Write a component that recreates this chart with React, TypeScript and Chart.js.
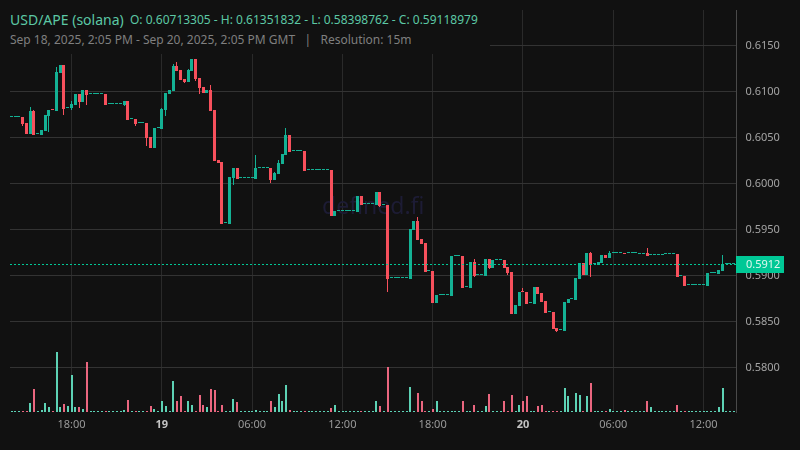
import React, { useEffect, useRef } from "react";
import { Chart, registerables } from "chart.js";

Chart.register(...registerables);

const opens = [
  0.60713, 0.60713, 0.60713, 0.60713, 0.60648, 0.60532, 0.60782, 0.60529, 0.60521, 0.60565,
  0.60728, 0.60791, 0.60782, 0.61195, 0.61282, 0.60815, 0.60815, 0.60848, 0.60967, 0.6088,
  0.61011, 0.60963, 0.60963, 0.60963, 0.60963, 0.60967, 0.60855, 0.60855, 0.60855, 0.60855,
  0.60848, 0.60891, 0.60692, 0.60695, 0.60648, 0.60648, 0.60648, 0.605, 0.6038, 0.60594,
  0.60587, 0.60793, 0.60967, 0.61, 0.61271, 0.61228, 0.6113, 0.61098, 0.61217, 0.61352,
  0.61141, 0.61043, 0.60978, 0.61011, 0.60793, 0.6025, 0.60228, 0.59561, 0.59554, 0.60054,
  0.60163, 0.6005, 0.6005, 0.6005, 0.6005, 0.60043, 0.60159, 0.60159, 0.60159, 0.60163,
  0.60032, 0.60097, 0.60206, 0.60304, 0.60521, 0.60344, 0.60344, 0.60344, 0.60347, 0.60137,
  0.60137, 0.60137, 0.60137, 0.60137, 0.60137, 0.60141, 0.59641, 0.59692, 0.59692, 0.59692,
  0.59692, 0.59692, 0.59684, 0.59858, 0.59768, 0.59768, 0.59768, 0.5976, 0.59902, 0.59757,
  0.5976, 0.58963, 0.58963, 0.58963, 0.58963, 0.58963, 0.58957, 0.5949, 0.59587, 0.59392,
  0.59348, 0.5904, 0.59044, 0.58696, 0.58779, 0.58779, 0.58779, 0.58772, 0.59203, 0.59203,
  0.59207, 0.58866, 0.58859, 0.59142, 0.58997, 0.58997, 0.5899, 0.59174, 0.59077, 0.5916,
  0.5916, 0.59163, 0.59087, 0.59033, 0.58577, 0.58663, 0.58812, 0.58816, 0.58692, 0.58685,
  0.5887, 0.58805, 0.58718, 0.58595, 0.58598, 0.58424, 0.58399, 0.58392, 0.58696, 0.58736,
  0.58729, 0.58957, 0.5913, 0.59, 0.59239, 0.59116, 0.59109, 0.5913, 0.59217, 0.59185,
  0.59235, 0.59235, 0.59235, 0.59235, 0.59235, 0.59235, 0.59235, 0.59232, 0.59232, 0.59239,
  0.59221, 0.59221, 0.59221, 0.59221, 0.59225, 0.59225, 0.59225, 0.59228, 0.58985, 0.58989,
  0.58888, 0.58888, 0.58888, 0.58888, 0.58888, 0.5888, 0.59018, 0.59018, 0.59011, 0.59043,
  0.59119, 0.59119, 0.59119,
];

const highs = [
  0.60713, 0.60713, 0.60713, 0.60713, 0.60648, 0.60826, 0.60793, 0.60529, 0.60576, 0.60739,
  0.60793, 0.60791, 0.61261, 0.61282, 0.61282, 0.60815, 0.60891, 0.60967, 0.60967, 0.61011,
  0.61011, 0.60963, 0.60963, 0.60963, 0.60963, 0.60967, 0.60855, 0.60855, 0.60855, 0.60855,
  0.60891, 0.60891, 0.60692, 0.60695, 0.60648, 0.60648, 0.60648, 0.605, 0.60598, 0.60594,
  0.60815, 0.60978, 0.61011, 0.61293, 0.61315, 0.61228, 0.6113, 0.61239, 0.61352, 0.61352,
  0.61141, 0.61043, 0.61011, 0.61065, 0.60793, 0.6025, 0.60228, 0.59561, 0.60065, 0.60163,
  0.60163, 0.6005, 0.6005, 0.6005, 0.6005, 0.60304, 0.60159, 0.60159, 0.60159, 0.60163,
  0.60119, 0.6025, 0.60315, 0.60597, 0.60521, 0.60344, 0.60344, 0.60344, 0.60347, 0.60137,
  0.60137, 0.60137, 0.60137, 0.60137, 0.60137, 0.60141, 0.59695, 0.59692, 0.59692, 0.59692,
  0.59692, 0.59692, 0.59858, 0.59858, 0.59768, 0.59768, 0.59768, 0.59902, 0.59902, 0.59757,
  0.5976, 0.58963, 0.58963, 0.58963, 0.58963, 0.58963, 0.59497, 0.59587, 0.59631, 0.59392,
  0.59348, 0.5904, 0.59044, 0.58783, 0.58779, 0.58779, 0.58779, 0.59207, 0.59203, 0.59203,
  0.59207, 0.58866, 0.59142, 0.59174, 0.58997, 0.58997, 0.59174, 0.59174, 0.59163, 0.5916,
  0.5916, 0.59163, 0.59087, 0.59033, 0.58674, 0.58816, 0.58859, 0.58816, 0.58692, 0.5887,
  0.5887, 0.58805, 0.58718, 0.58595, 0.58598, 0.58424, 0.58399, 0.58707, 0.5874, 0.58736,
  0.58968, 0.59131, 0.5913, 0.59239, 0.5925, 0.59116, 0.59141, 0.59217, 0.59217, 0.59261,
  0.59235, 0.59235, 0.59235, 0.59235, 0.59235, 0.59235, 0.59235, 0.59232, 0.59232, 0.59293,
  0.59221, 0.59221, 0.59221, 0.59221, 0.59225, 0.59225, 0.59225, 0.59228, 0.58985, 0.58989,
  0.58888, 0.58888, 0.58888, 0.58888, 0.58888, 0.59022, 0.59018, 0.59018, 0.59054, 0.59217,
  0.59119, 0.59119, 0.59119,
];

const lows = [
  0.60713, 0.60713, 0.60713, 0.60619, 0.60532, 0.60532, 0.60521, 0.60529, 0.60521, 0.60565,
  0.60554, 0.6079, 0.60782, 0.61195, 0.60739, 0.60815, 0.60793, 0.60848, 0.60815, 0.6088,
  0.60848, 0.60963, 0.60963, 0.60963, 0.60963, 0.60848, 0.60855, 0.60855, 0.60855, 0.60855,
  0.60837, 0.60684, 0.60692, 0.60619, 0.60648, 0.60648, 0.60402, 0.6038, 0.6038, 0.60594,
  0.60587, 0.60728, 0.60967, 0.61, 0.61217, 0.61119, 0.61087, 0.61098, 0.61217, 0.61108,
  0.60967, 0.60978, 0.60978, 0.60782, 0.60239, 0.60217, 0.59554, 0.59561, 0.59554, 0.59978,
  0.60043, 0.6005, 0.6005, 0.6005, 0.6005, 0.60043, 0.60159, 0.60159, 0.60159, 0.6,
  0.60032, 0.60097, 0.60206, 0.60304, 0.60337, 0.60344, 0.60344, 0.60344, 0.6013, 0.60137,
  0.60137, 0.60137, 0.60137, 0.60137, 0.60137, 0.59641, 0.59641, 0.59692, 0.59692, 0.59692,
  0.59692, 0.59692, 0.59684, 0.5976, 0.59768, 0.59768, 0.59768, 0.5976, 0.59739, 0.59757,
  0.58815, 0.58963, 0.58963, 0.58963, 0.58963, 0.58963, 0.58957, 0.5949, 0.59381, 0.59337,
  0.59033, 0.5904, 0.58696, 0.58696, 0.58779, 0.58779, 0.58779, 0.58772, 0.59203, 0.59203,
  0.58859, 0.58866, 0.58859, 0.58979, 0.58997, 0.58997, 0.5899, 0.59066, 0.59077, 0.5916,
  0.5916, 0.59077, 0.59, 0.58577, 0.58577, 0.58663, 0.58811, 0.58685, 0.58692, 0.58685,
  0.58794, 0.58707, 0.58587, 0.58595, 0.58413, 0.58381, 0.58399, 0.58392, 0.58696, 0.58736,
  0.58729, 0.58957, 0.59, 0.59, 0.58978, 0.59116, 0.59109, 0.5913, 0.59185, 0.59185,
  0.59235, 0.59235, 0.59235, 0.59234, 0.59235, 0.59235, 0.59235, 0.59232, 0.59232, 0.59206,
  0.59221, 0.59221, 0.59221, 0.59221, 0.59225, 0.59225, 0.59225, 0.58978, 0.58985, 0.5888,
  0.58888, 0.58888, 0.58888, 0.58888, 0.58888, 0.5888, 0.59018, 0.59018, 0.59011, 0.59043,
  0.59119, 0.59119, 0.59119,
];

const closes = [
  0.60713, 0.60713, 0.60713, 0.60641, 0.60532, 0.60782, 0.60521, 0.60529, 0.60576, 0.60739,
  0.60793, 0.6079, 0.61206, 0.61282, 0.60804, 0.60815, 0.60858, 0.60967, 0.6088, 0.61011,
  0.60956, 0.60963, 0.60963, 0.60963, 0.60963, 0.60848, 0.60855, 0.60855, 0.60855, 0.60855,
  0.60891, 0.60684, 0.60692, 0.60641, 0.60648, 0.60648, 0.60489, 0.6038, 0.60598, 0.60594,
  0.60804, 0.60978, 0.61011, 0.61271, 0.61217, 0.61119, 0.61098, 0.61228, 0.61352, 0.6113,
  0.61032, 0.60978, 0.61011, 0.60782, 0.60239, 0.60217, 0.59554, 0.59561, 0.60065, 0.60163,
  0.60043, 0.6005, 0.6005, 0.6005, 0.6005, 0.60163, 0.60159, 0.60159, 0.60159, 0.60032,
  0.60108, 0.60217, 0.60315, 0.60521, 0.60337, 0.60344, 0.60344, 0.60344, 0.6013, 0.60137,
  0.60137, 0.60137, 0.60137, 0.60137, 0.60137, 0.59641, 0.59695, 0.59692, 0.59692, 0.59692,
  0.59692, 0.59692, 0.59858, 0.5976, 0.59768, 0.59768, 0.59768, 0.59902, 0.5975, 0.59757,
  0.58956, 0.58963, 0.58963, 0.58963, 0.58963, 0.58963, 0.59497, 0.59587, 0.59381, 0.59337,
  0.59033, 0.5904, 0.58696, 0.58783, 0.58779, 0.58779, 0.58779, 0.59207, 0.59203, 0.59203,
  0.58859, 0.58866, 0.59142, 0.5899, 0.58997, 0.58997, 0.59174, 0.59077, 0.59163, 0.5916,
  0.5916, 0.59077, 0.59022, 0.58577, 0.58674, 0.58816, 0.58811, 0.58685, 0.58692, 0.5887,
  0.58794, 0.58707, 0.58587, 0.58595, 0.58413, 0.58392, 0.58399, 0.58707, 0.5874, 0.58736,
  0.58968, 0.59131, 0.59, 0.59239, 0.59109, 0.59116, 0.59141, 0.59217, 0.59185, 0.59239,
  0.59235, 0.59235, 0.59235, 0.59234, 0.59235, 0.59235, 0.59235, 0.59232, 0.59232, 0.59206,
  0.59221, 0.59221, 0.59221, 0.59221, 0.59225, 0.59225, 0.59225, 0.58978, 0.58985, 0.5888,
  0.58888, 0.58888, 0.58888, 0.58888, 0.58888, 0.59022, 0.59018, 0.59018, 0.59054, 0.59119,
  0.59119, 0.59119, 0.59119,
];

// relative volume at the bottom
const volumes = [
  1, 1, 1, 1, 1, 9, 23, 1, 2, 9,
  5, 1, 60, 5, 8, 6, 37, 5, 5, 3,
  50, 1, 1, 1, 1, 1, 1, 1, 1, 1,
  2, 12, 1, 1, 1, 1, 1, 6, 3, 1,
  11, 6, 1, 31, 11, 16, 1, 11, 7, 1,
  17, 7, 5, 23, 22, 1, 7, 1, 1, 13,
  10, 1, 1, 1, 1, 2, 1, 1, 1, 11,
  5, 18, 11, 27, 2, 1, 1, 1, 1, 1,
  1, 1, 1, 1, 1, 4, 7, 1, 1, 1,
  1, 1, 1, 1, 1, 1, 1, 11, 6, 1,
  45, 1, 1, 1, 1, 1, 25, 1, 19, 11,
  1, 1, 3, 11, 1, 1, 1, 1, 1, 1,
  11, 1, 1, 7, 1, 1, 6, 18, 1, 1,
  1, 11, 1, 17, 1, 7, 11, 16, 1, 1,
  6, 7, 1, 1, 1, 1, 1, 24, 16, 1,
  19, 17, 1, 16, 29, 1, 1, 1, 1, 3,
  1, 1, 1, 2, 1, 1, 1, 1, 1, 11,
  5, 1, 1, 1, 1, 1, 1, 7, 1, 1,
  1, 1, 1, 1, 1, 1, 1, 1, 5, 24,
  1, 1, 1,
];

const tickPositions = [16, 40, 64, 88, 112, 136, 160, 184];
const tickLabels = ["18:00", "19", "06:00", "12:00", "18:00", "20", "06:00", "12:00"];
const dayTicks = [40, 136];

const lastPrice = 0.5912;

const FONT = "'Noto Sans', sans-serif";
const UP = "#14b194";
const DOWN = "#f7505c";
const VOL_UP = "#5dd2b5";
const VOL_DOWN = "#ea667f";
const LAST = "#00c896";

const candleColors = closes.map((c, i) => (c >= opens[i] ? UP : DOWN));
const volumeColors = closes.map((c, i) => (c >= opens[i] ? VOL_UP : VOL_DOWN));

// keep bars on whole pixels so they stay crisp like the original
const snapBars = {
  id: "snapBars",
  afterDatasetsUpdate(chart: any) {
    chart.data.datasets.forEach((_: any, d: number) => {
      chart.getDatasetMeta(d).data.forEach((el: any) => {
        el.x = d === 2 ? Math.round(el.x + 0.2) : Math.round(el.x - 0.5) + 0.5;
        el.y = Math.round(el.y);
        el.base = Math.round(el.base);
        if (d === 0 && el.y === el.base) el.base = el.y + 1;
        if (d === 2 && el.y === el.base) el.y = el.base - 1;
      });
    });
  },
};

const watermark = {
  id: "watermark",
  beforeDatasetsDraw(chart: any) {
    const { ctx, chartArea } = chart;
    ctx.save();
    ctx.font = `23px ${FONT}`;
    ctx.fillStyle = "#1d1c35";
    ctx.textAlign = "center";
    ctx.textBaseline = "middle";
    ctx.fillText("defined.fi", (chartArea.left + chartArea.right) / 2, 207);
    ctx.restore();
  },
};

const lastPriceTag = {
  id: "lastPriceTag",
  afterDraw(chart: any) {
    const { ctx, chartArea, scales } = chart;
    const y = Math.round(scales.y.getPixelForValue(lastPrice)) + 0.5;
    ctx.save();
    ctx.strokeStyle = LAST;
    ctx.lineWidth = 1;
    ctx.setLineDash([2, 2]);
    ctx.beginPath();
    ctx.moveTo(chartArea.left, y);
    ctx.lineTo(chartArea.right, y);
    ctx.stroke();
    ctx.setLineDash([]);
    ctx.fillStyle = LAST;
    ctx.fillRect(736, y - 8.5, 48, 17);
    ctx.fillStyle = "#dff7ef";
    ctx.font = `11px ${FONT}`;
    ctx.textAlign = "left";
    ctx.textBaseline = "middle";
    ctx.fillText(lastPrice.toFixed(4), 746, y + 0.5);
    ctx.restore();
  },
};

const App = () => {
  const canvasRef = useRef<HTMLCanvasElement>(null);

  useEffect(() => {
    if (!canvasRef.current) return;

    const chart = new Chart(canvasRef.current, {
      type: "bar",
      data: {
        datasets: [
          {
            data: opens.map((o, i) => ({ x: i, y: [o, closes[i]] })),
            backgroundColor: candleColors,
            barThickness: 3,
            minBarLength: 1,
            inflateAmount: 0,
            grouped: false,
            yAxisID: "y",
          },
          {
            data: highs.map((h, i) => ({ x: i, y: [lows[i], h] })),
            backgroundColor: candleColors,
            barThickness: 1,
            inflateAmount: 0,
            grouped: false,
            yAxisID: "y",
          },
          {
            data: volumes.map((v, i) => ({ x: i, y: v })),
            backgroundColor: volumeColors,
            barThickness: 2,
            inflateAmount: 0,
            grouped: false,
            yAxisID: "yVol",
          },
        ] as any,
      },
      plugins: [snapBars, watermark, lastPriceTag],
      options: {
        responsive: false,
        animation: false,
        layout: { padding: { left: 10, top: 10, right: 0, bottom: 0 } },
        plugins: {
          legend: { display: false },
          tooltip: { enabled: false },
        },
        scales: {
          x: {
            type: "linear",
            offset: false,
            min: -0.35,
            max: 192.77,
            afterBuildTicks: (scale: any) => {
              scale.ticks = tickPositions.map((value) => ({ value }));
            },
            afterFit: (scale: any) => {
              scale.height = 38;
              scale.paddingLeft = 0;
              scale.paddingRight = 0;
            },
            grid: { color: "#2a2a2a", drawTicks: false, offset: false },
            border: { display: false },
            ticks: {
              autoSkip: false,
              maxRotation: 0,
              padding: 6,
              color: (ctx: any) => (dayTicks.includes(ctx.tick?.value) ? "#c4c4c4" : "#9a9a9a"),
              font: (ctx: any) => ({
                family: FONT,
                size: 11,
                weight: dayTicks.includes(ctx.tick?.value) ? "bold" : "normal",
              }),
              callback: (value: any) => tickLabels[tickPositions.indexOf(value)],
            },
          },
          y: {
            position: "right",
            min: 0.57512,
            max: 0.61881,
            afterFit: (scale: any) => {
              scale.width = 63.5;
              scale.paddingTop = 0;
              scale.paddingBottom = 0;
            },
            grid: { color: "#333333", drawTicks: false },
            border: { display: true, color: "#4a4a4a" },
            ticks: {
              stepSize: 0.005,
              includeBounds: false,
              padding: 9,
              labelOffset: 1,
              color: "#a4a4a4",
              font: { family: FONT, size: 11 },
              callback: (value: any) => Number(value).toFixed(4),
            },
          },
          yVol: {
            display: false,
            min: 0,
            max: 402,
          },
        },
      } as any,
    });

    return () => chart.destroy();
  }, []);

  return (
    <div style={{ position: "fixed", left: 0, top: 0, width: 800, height: 450, background: "#111111", overflow: "hidden" }}>
      <canvas ref={canvasRef} width={800} height={450} style={{ display: "block" }} />
      <div
        style={{
          position: "absolute",
          left: 0,
          top: 0,
          width: 490,
          height: 54,
          background: "#111111",
          fontFamily: FONT,
          whiteSpace: "pre",
        }}
      >
        <div style={{ position: "absolute", left: 10, top: 10, fontSize: 14, lineHeight: "20px", color: "#5cc8a5" }}>
          USD/APE (solana)
        </div>
        <div style={{ position: "absolute", left: 130, top: 11, fontSize: 12, lineHeight: "18px", color: "#5cc8a5" }}>
          O: 0.60713305 - H: 0.61351832 - L: 0.58398762 - C: 0.59118979
        </div>
        <div style={{ position: "absolute", left: 10, top: 31, fontSize: 12, lineHeight: "18px", color: "#7f7f7f" }}>
          {"Sep 18, 2025, 2:05 PM - Sep 20, 2025, 2:05 PM GMT   |   Resolution: 15m"}
        </div>
      </div>
    </div>
  );
};

export default App;
